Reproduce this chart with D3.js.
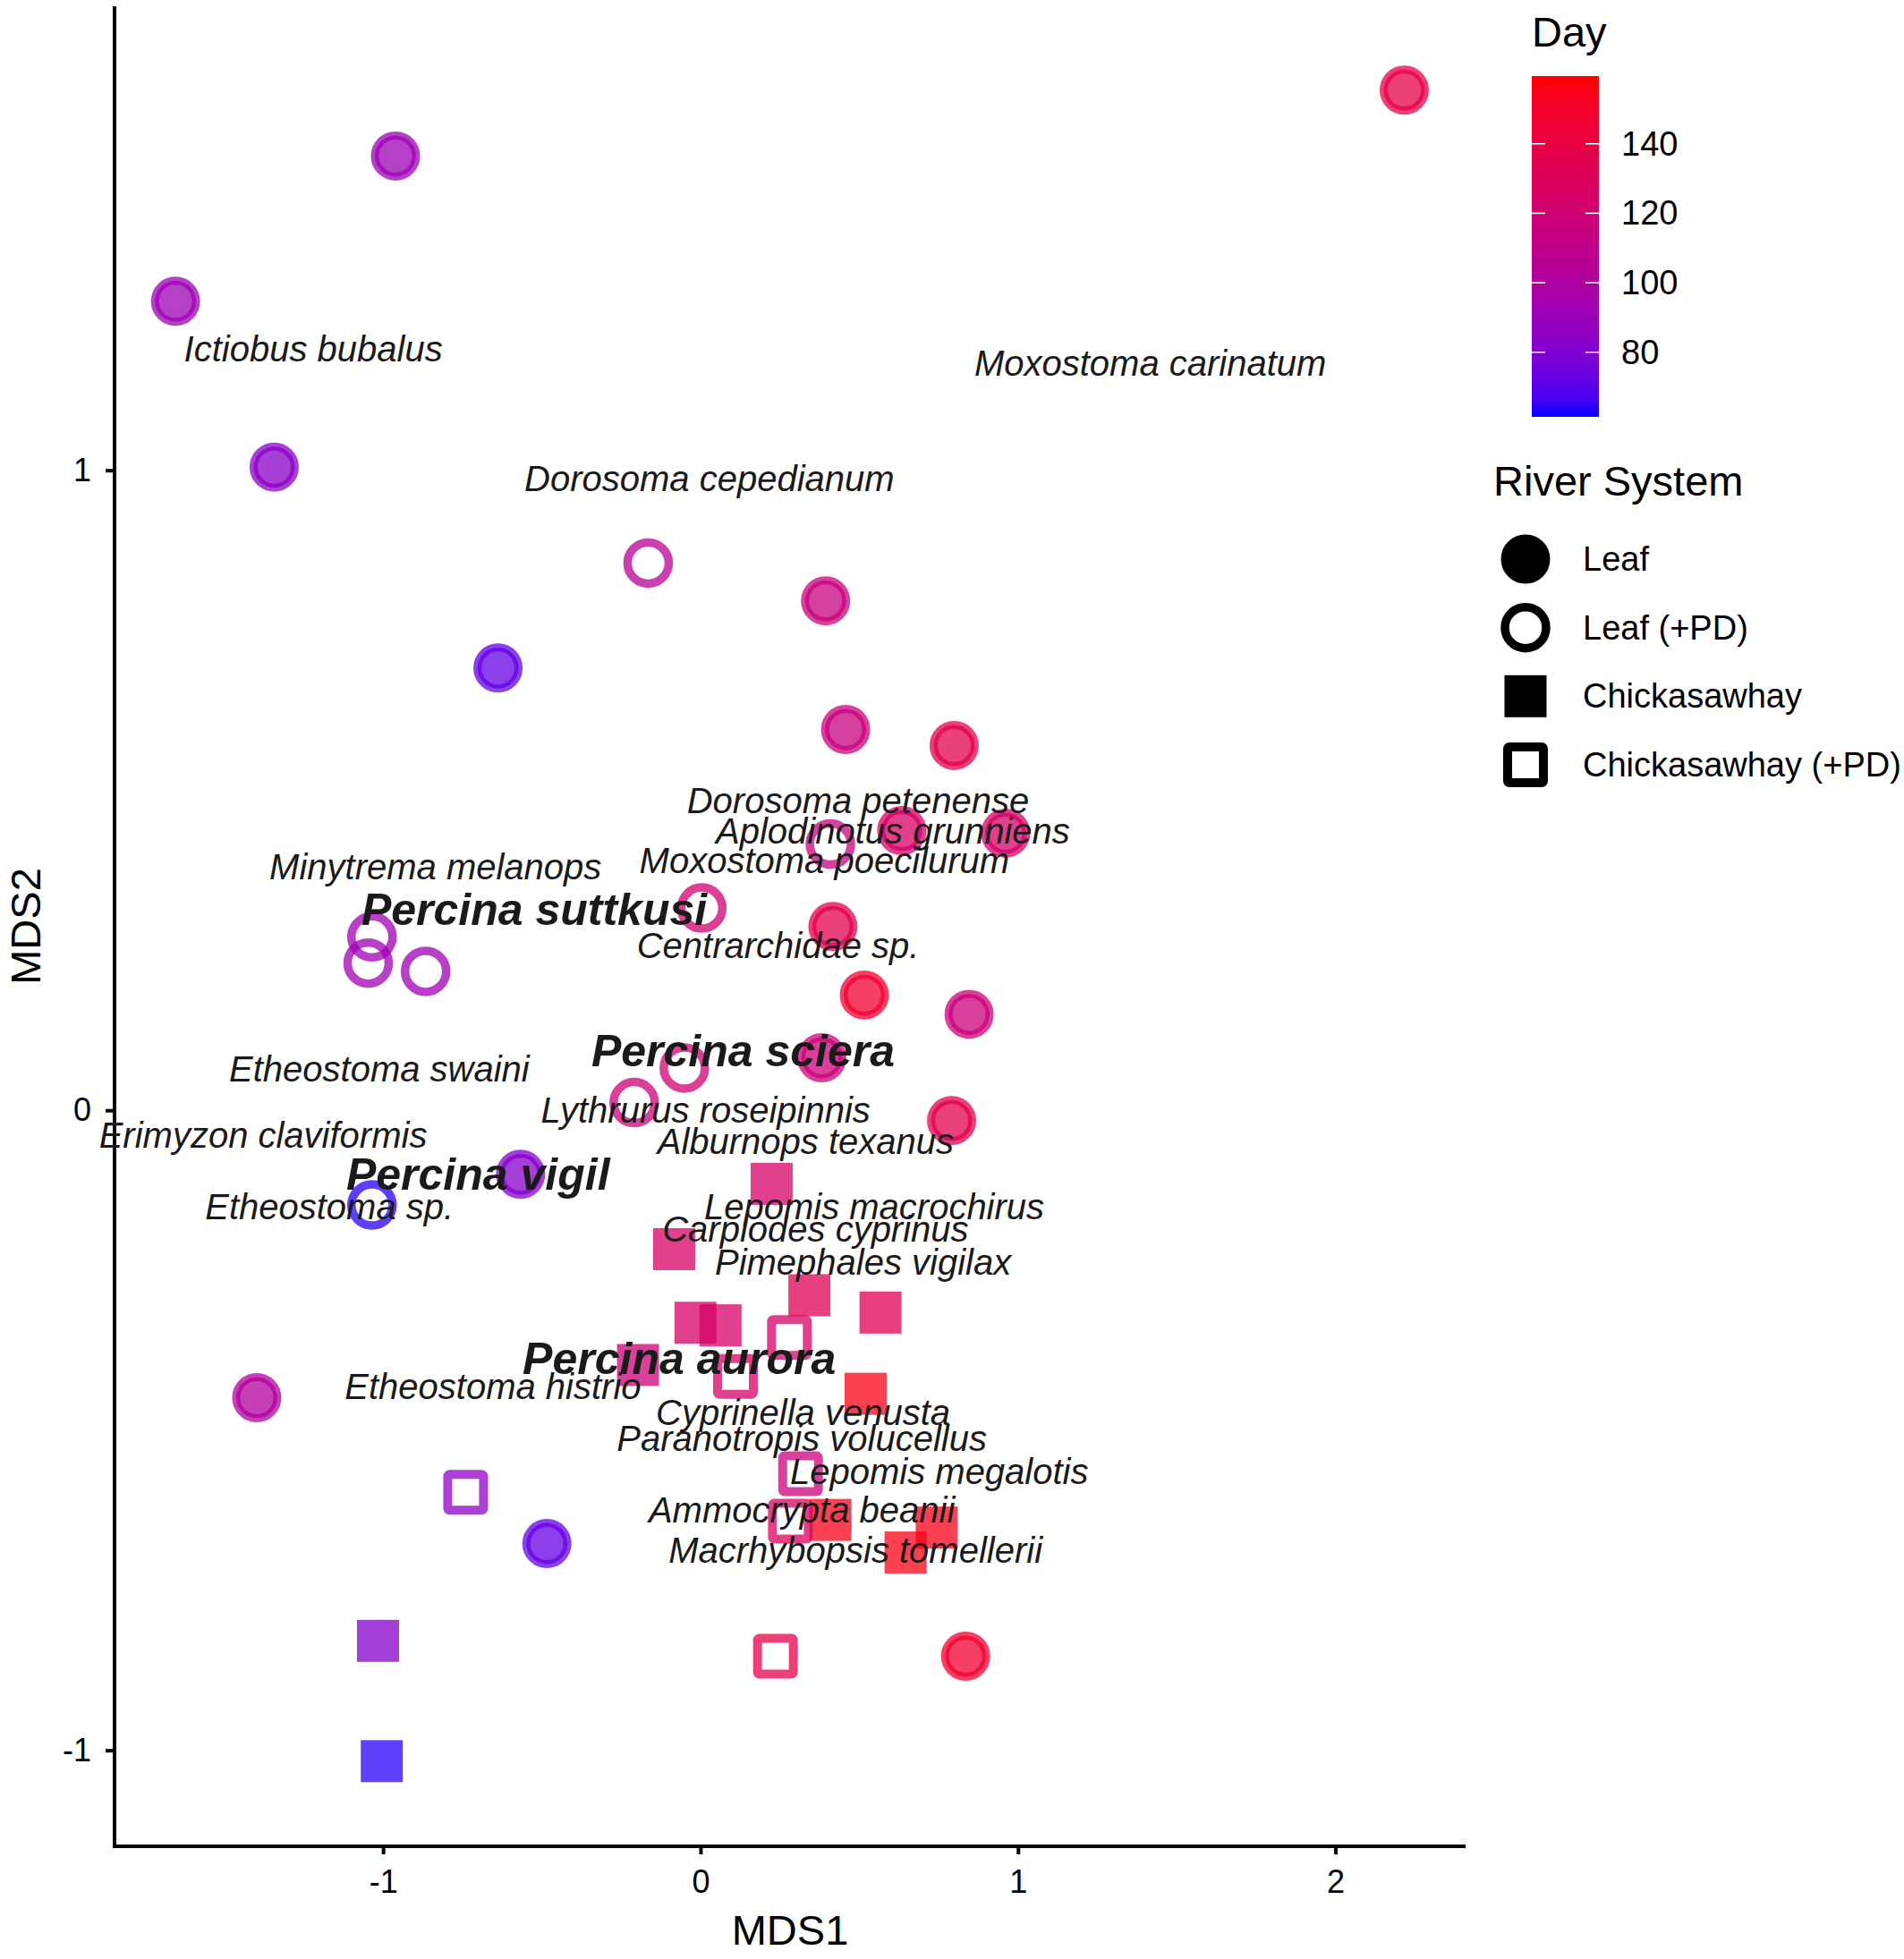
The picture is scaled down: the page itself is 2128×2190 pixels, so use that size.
<!DOCTYPE html>
<html>
<head>
<meta charset="utf-8">
<script src="https://cdn.jsdelivr.net/npm/d3@7"></script>
<style>
  html, body { margin: 0; padding: 0; background: #fff; }
  svg { display: block; font-family: "Liberation Sans", Arial, sans-serif; }
</style>
</head>
<body>
<svg id="chart" width="2128" height="2190"></svg>
<script>
// ---------------- DATA ----------------
const leaf = [
  {x: 2.217, y: 1.594, day: 138},
  {x: -0.961, y: 1.491, day: 91},
  {x: -1.654, y: 1.264, day: 91},
  {x: -1.343, y: 1.005, day: 84},
  {x: -0.638, y: 0.691, day: 72},
  {x: 0.394, y: 0.796, day: 115},
  {x: 0.457, y: 0.595, day: 115},
  {x: 0.799, y: 0.570, day: 135},
  {x: 0.634, y: 0.437, day: 125},
  {x: 0.961, y: 0.433, day: 125},
  {x: 0.417, y: 0.287, day: 135},
  {x: 0.516, y: 0.180, day: 148},
  {x: 0.846, y: 0.150, day: 117},
  {x: 0.382, y: 0.082, day: 117},
  {x: 0.791, y: -0.016, day: 135},
  {x: -0.567, y: -0.100, day: 82},
  {x: -1.398, y: -0.449, day: 102},
  {x: -0.484, y: -0.677, day: 72},
  {x: 0.835, y: -0.853, day: 148}
];
const leafPD = [
  {x: -0.165, y: 0.855, day: 105},
  {x: 0.409, y: 0.416, day: 115},
  {x: 0.004, y: 0.316, day: 120},
  {x: -1.035, y: 0.271, day: 92},
  {x: -1.047, y: 0.230, day: 92},
  {x: -0.866, y: 0.217, day: 92},
  {x: -0.051, y: 0.066, day: 120},
  {x: -0.209, y: 0.012, day: 118},
  {x: -1.035, y: -0.148, day: 63}
];
const chick = [
  {x: 0.224, y: -0.115, day: 125},
  {x: -0.083, y: -0.217, day: 125},
  {x: 0.343, y: -0.289, day: 133},
  {x: 0.567, y: -0.316, day: 133},
  {x: -0.016, y: -0.332, day: 125},
  {x: 0.063, y: -0.336, day: 125},
  {x: -0.197, y: -0.398, day: 118},
  {x: 0.520, y: -0.443, day: 155},
  {x: 0.409, y: -0.640, day: 155},
  {x: 0.744, y: -0.652, day: 155},
  {x: 0.646, y: -0.691, day: 155},
  {x: -1.016, y: -0.829, day: 82},
  {x: -1.004, y: -1.017, day: 63}
];
const chickPD = [
  {x: 0.280, y: -0.355, day: 125},
  {x: 0.110, y: -0.416, day: 125},
  {x: 0.315, y: -0.568, day: 115},
  {x: 0.283, y: -0.642, day: 128},
  {x: -0.740, y: -0.597, day: 85},
  {x: 0.236, y: -0.853, day: 138}
];
const speciesLabels = [
  {name: "Ictiobus bubalus", x: -1.220, y: 1.190},
  {name: "Moxostoma carinatum", x: 1.417, y: 1.167},
  {name: "Dorosoma cepedianum", x: 0.028, y: 0.987},
  {name: "Dorosoma petenense", x: 0.496, y: 0.484},
  {name: "Aplodinotus grunniens", x: 0.606, y: 0.437},
  {name: "Moxostoma poecilurum", x: 0.390, y: 0.390},
  {name: "Minytrema melanops", x: -0.835, y: 0.380},
  {name: "Centrarchidae sp.", x: 0.244, y: 0.258},
  {name: "Etheostoma swaini", x: -1.012, y: 0.064},
  {name: "Lythrurus roseipinnis", x: 0.016, y: 0.000},
  {name: "Erimyzon claviformis", x: -1.378, y: -0.039},
  {name: "Alburnops texanus", x: 0.331, y: -0.049},
  {name: "Etheostoma sp.", x: -1.169, y: -0.150},
  {name: "Lepomis macrochirus", x: 0.547, y: -0.150},
  {name: "Carplodes cyprinus", x: 0.362, y: -0.185},
  {name: "Pimephales vigilax", x: 0.512, y: -0.238},
  {name: "Etheostoma histrio", x: -0.654, y: -0.431},
  {name: "Cyprinella venusta", x: 0.323, y: -0.472},
  {name: "Paranotropis volucellus", x: 0.319, y: -0.513},
  {name: "Lepomis megalotis", x: 0.752, y: -0.564},
  {name: "Ammocrypta beanii", x: 0.319, y: -0.624},
  {name: "Macrhybopsis tomellerii", x: 0.488, y: -0.687}
];
const percinaLabels = [
  {name: "Percina suttkusi", x: -0.524, y: 0.314},
  {name: "Percina sciera", x: 0.134, y: 0.092},
  {name: "Percina vigil", x: -0.701, y: -0.100},
  {name: "Percina aurora", x: -0.067, y: -0.388}
];
const xTicks = [-1, 0, 1, 2];
const yTicks = [-1, 0, 1];
const dayTicks = [80, 100, 120, 140];
const dayDomain = [61.4, 159.5];
const riverSystems = ["Leaf", "Leaf (+PD)", "Chickasawhay", "Chickasawhay (+PD)"];

// ---------------- SETUP ----------------
const svg = d3.select("#chart");
const pL = 128, pR = 1638, pT = 7, pB = 2064;
const x = d3.scaleLinear().domain([-1.846, 2.41]).range([pL, pR]);
const y = d3.scaleLinear().domain([-1.15, 1.725]).range([pB, pT]);
const color = d3.scaleLinear().domain(dayDomain).range(["blue", "red"]).interpolate(d3.interpolateLab);
const alpha = 0.75;
const textCol = "#1a1a1a";

// ---------------- AXES ----------------
const xAxis = svg.append("g").attr("transform", `translate(0,${pB})`)
  .call(d3.axisBottom(x).tickValues(xTicks).tickFormat(d3.format("d")).tickSize(9).tickSizeOuter(0).tickPadding(17));
const yAxis = svg.append("g").attr("transform", `translate(${pL},0)`)
  .call(d3.axisLeft(y).tickValues(yTicks).tickFormat(d3.format("d")).tickSize(10).tickSizeOuter(0).tickPadding(16));
[xAxis, yAxis].forEach(g => {
  g.select(".domain").attr("stroke", "#000").attr("stroke-width", 4);
  g.selectAll(".tick line").attr("stroke", "#000").attr("stroke-width", 4);
  g.selectAll(".tick text").attr("fill", "#000").attr("font-size", 36)
    .attr("font-family", "Liberation Sans, Arial, sans-serif");
});
xAxis.select(".domain").attr("d", `M${pL - 2},0H${pR}`);
yAxis.select(".domain").attr("d", `M0,${pT}V${pB + 2}`);
yAxis.selectAll(".tick text").text(d => d < 0 ? "-" + Math.abs(d) : d);
xAxis.selectAll(".tick text").text(d => d < 0 ? "-" + Math.abs(d) : d);

svg.append("text").attr("x", (pL + pR) / 2).attr("y", 2174)
  .attr("text-anchor", "middle").attr("font-size", 47).attr("fill", "#000").text("MDS1");
svg.append("text").attr("transform", `translate(28,${(pT + pB) / 2}) rotate(-90)`)
  .attr("text-anchor", "middle").attr("dominant-baseline", "central")
  .attr("font-size", 47).attr("fill", "#000").text("MDS2");

// ---------------- POINTS ----------------
const pts = svg.append("g");
pts.selectAll("circle.leaf").data(leaf).join("circle").attr("class", "leaf")
  .attr("cx", d => x(d.x)).attr("cy", d => y(d.y)).attr("r", 23)
  .attr("fill", d => color(d.day)).attr("fill-opacity", alpha)
  .attr("stroke", d => color(d.day)).attr("stroke-opacity", alpha).attr("stroke-width", 9);
pts.selectAll("circle.leafpd").data(leafPD).join("circle").attr("class", "leafpd")
  .attr("cx", d => x(d.x)).attr("cy", d => y(d.y)).attr("r", 23)
  .attr("fill", "none")
  .attr("stroke", d => color(d.day)).attr("stroke-opacity", alpha).attr("stroke-width", 9.5);
const sq = 47;
pts.selectAll("rect.chick").data(chick).join("rect").attr("class", "chick")
  .attr("x", d => x(d.x) - sq / 2).attr("y", d => y(d.y) - sq / 2)
  .attr("width", sq).attr("height", sq)
  .attr("fill", d => color(d.day)).attr("fill-opacity", alpha);
const osq = 40;
pts.selectAll("rect.chickpd").data(chickPD).join("rect").attr("class", "chickpd")
  .attr("x", d => x(d.x) - osq / 2).attr("y", d => y(d.y) - osq / 2)
  .attr("width", osq).attr("height", osq).attr("rx", 2)
  .attr("fill", "none")
  .attr("stroke", d => color(d.day)).attr("stroke-opacity", alpha)
  .attr("stroke-width", 10).attr("stroke-linejoin", "round");

// ---------------- LABELS ----------------
const lab = svg.append("g");
lab.selectAll("text.sp").data(speciesLabels).join("text").attr("class", "sp")
  .attr("x", d => x(d.x)).attr("y", d => y(d.y))
  .attr("text-anchor", "middle").attr("dominant-baseline", "central")
  .attr("font-size", 40).attr("font-style", "italic").attr("fill", textCol)
  .text(d => d.name);
lab.selectAll("text.pc").data(percinaLabels).join("text").attr("class", "pc")
  .attr("x", d => x(d.x)).attr("y", d => y(d.y))
  .attr("text-anchor", "middle").attr("dominant-baseline", "central")
  .attr("font-size", 50).attr("font-style", "italic").attr("font-weight", "bold").attr("fill", textCol)
  .text(d => d.name);

// ---------------- LEGEND: Day ----------------
const lg = svg.append("g");
lg.append("text").attr("x", 1712).attr("y", 52).attr("font-size", 47).attr("fill", "#000").text("Day");
const barX = 1712, barW = 75, barTop = 85, barBot = 466;
const cb = d3.scaleLinear().domain(dayDomain).range([barBot, barTop]);
const defs = svg.append("defs");
const grad = defs.append("linearGradient").attr("id", "dayGrad")
  .attr("x1", 0).attr("y1", 1).attr("x2", 0).attr("y2", 0);
d3.range(0, 1.0001, 0.05).forEach(t => {
  grad.append("stop").attr("offset", t)
    .attr("stop-color", color(dayDomain[0] + t * (dayDomain[1] - dayDomain[0])));
});
lg.append("rect").attr("x", barX).attr("y", barTop).attr("width", barW).attr("height", barBot - barTop)
  .attr("fill", "url(#dayGrad)");
dayTicks.forEach(v => {
  lg.append("line").attr("x1", barX).attr("x2", barX + 15).attr("y1", cb(v)).attr("y2", cb(v))
    .attr("stroke", "#fff").attr("stroke-width", 1.5);
  lg.append("line").attr("x1", barX + barW - 15).attr("x2", barX + barW).attr("y1", cb(v)).attr("y2", cb(v))
    .attr("stroke", "#fff").attr("stroke-width", 1.5);
  lg.append("text").attr("x", 1812).attr("y", cb(v)).attr("dominant-baseline", "central")
    .attr("font-size", 38).attr("fill", "#000").text(v);
});

// ---------------- LEGEND: River System ----------------
lg.append("text").attr("x", 1669).attr("y", 554).attr("font-size", 47).attr("fill", "#000").text("River System");
const keyX = 1705;
const keyY = d3.scalePoint().domain(riverSystems).range([625, 855]);
lg.append("circle").attr("cx", keyX).attr("cy", keyY("Leaf")).attr("r", 23)
  .attr("fill", "#000").attr("stroke", "#000").attr("stroke-width", 9);
lg.append("circle").attr("cx", keyX).attr("cy", keyY("Leaf (+PD)")).attr("r", 23)
  .attr("fill", "none").attr("stroke", "#000").attr("stroke-width", 9.5);
lg.append("rect").attr("x", keyX - sq / 2).attr("y", keyY("Chickasawhay") - sq / 2)
  .attr("width", sq).attr("height", sq).attr("fill", "#000");
lg.append("rect").attr("x", keyX - osq / 2).attr("y", keyY("Chickasawhay (+PD)") - osq / 2)
  .attr("width", osq).attr("height", osq).attr("rx", 2)
  .attr("fill", "none").attr("stroke", "#000").attr("stroke-width", 10).attr("stroke-linejoin", "round");
riverSystems.forEach(s => {
  lg.append("text").attr("x", 1769).attr("y", keyY(s)).attr("dominant-baseline", "central")
    .attr("font-size", 38).attr("fill", "#000").text(s);
});
</script>
</body>
</html>
